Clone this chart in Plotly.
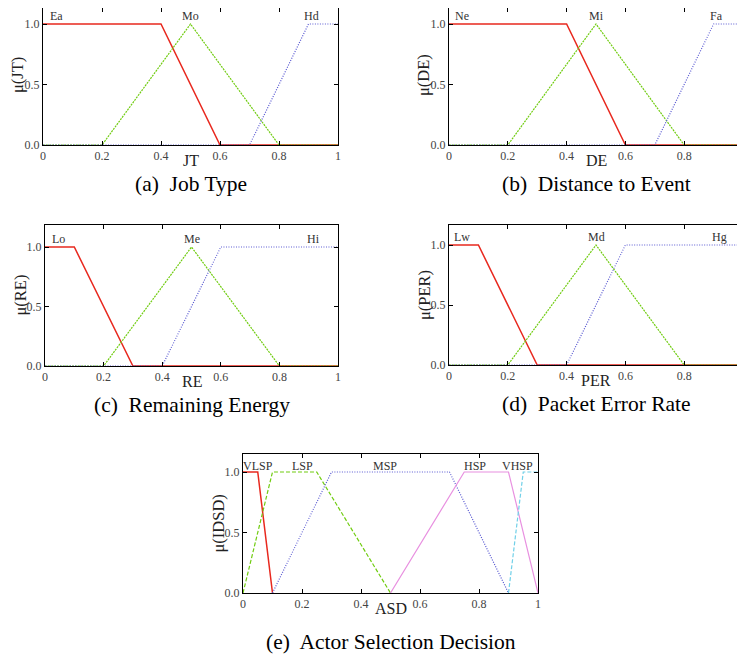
import plotly.graph_objects as go

# ---------------- data ----------------
x_ticks = [0, 0.2, 0.4, 0.6, 0.8, 1]
x_tick_text = ["0", "0.2", "0.4", "0.6", "0.8", "1"]
y_ticks = [0, 0.5, 1.0]
y_tick_text = ["0.0", "0.5", "1.0"]

# (a) Job Type
jt_names = ["Ea", "Mo", "Hd"]
jt_x = [[0, 0.4, 0.6, 1], [0, 0.2, 0.5, 0.8, 1], [0, 0.7, 0.9, 1]]
jt_y = [[1, 1, 0, 0], [0, 0, 1, 0, 0], [0, 0, 1, 1]]

# (b) Distance to Event
de_names = ["Ne", "Mi", "Fa"]
de_x = [[0, 0.4, 0.6, 1], [0, 0.2, 0.5, 0.8, 1], [0, 0.7, 0.9, 1]]
de_y = [[1, 1, 0, 0], [0, 0, 1, 0, 0], [0, 0, 1, 1]]

# (c) Remaining Energy
re_names = ["Lo", "Me", "Hi"]
re_x = [[0, 0.1, 0.3, 1], [0, 0.2, 0.5, 0.8, 1], [0, 0.4, 0.6, 1]]
re_y = [[1, 1, 0, 0], [0, 0, 1, 0, 0], [0, 0, 1, 1]]

# (d) Packet Error Rate
per_names = ["Lw", "Md", "Hg"]
per_x = [[0, 0.1, 0.3, 1], [0, 0.2, 0.5, 0.8, 1], [0, 0.4, 0.6, 1]]
per_y = [[1, 1, 0, 0], [0, 0, 1, 0, 0], [0, 0, 1, 1]]

# (e) Actor Selection Decision
asd_names = ["VLSP", "LSP", "MSP", "HSP", "VHSP"]
asd_x = [[0, 0.05, 0.1], [0, 0.1, 0.25, 0.5], [0.1, 0.3, 0.7, 0.9],
         [0.5, 0.75, 0.9, 1], [0.9, 0.95, 1]]
asd_y = [[1, 1, 0], [0, 1, 1, 0], [0, 1, 1, 0], [0, 1, 1, 0], [0, 1, 1]]

# ---------------- style ----------------
RED = "#e8281e"
GREEN = "#70cc10"
BLUE = "#5a5ad2"
PINK = "#e890e0"
CYAN = "#70d0e8"
SERIF = "Liberation Serif"

W, H = 745, 655
OFF = 8  # page body margin


def px2x(p):
    return min(1.0, max(0.0, (p - OFF) / W))


def px2y(p):
    return min(1.0, max(0.0, 1 - (p - OFF) / H))


GDOT = "2px,1px"
BDOT = "1px,1.5px"
DASH = "4px,2px"

# box: (left, right, top, bottom, pixel row of y=1.0) in page pixels
panels = [
    dict(names=jt_names, xs=jt_x, ys=jt_y,
         styles=[(RED, "solid", 1.5), (GREEN, GDOT, 1.2), (BLUE, BDOT, 1.2)],
         lx=[0.045, 0.5, 0.91], ly=1.07, xt="JT", yt="μ(JT)",
         cap="(a)\u00a0 Job Type", box=(43, 338, 5, 145, 24), cap_off=39),
    dict(names=de_names, xs=de_x, ys=de_y,
         styles=[(RED, "solid", 1.5), (GREEN, GDOT, 1.2), (BLUE, BDOT, 1.2)],
         lx=[0.045, 0.5, 0.91], ly=1.07, xt="DE", yt="μ(DE)",
         cap="(b)\u00a0 Distance to Event", box=(449, 743, 5, 145, 24), cap_off=39),
    dict(names=re_names, xs=re_x, ys=re_y,
         styles=[(RED, "solid", 1.5), (GREEN, GDOT, 1.2), (BLUE, BDOT, 1.2)],
         lx=[0.045, 0.5, 0.915], ly=1.07, xt="RE", yt="μ(RE)",
         cap="(c)\u00a0 Remaining Energy", box=(45, 338, 225, 366, 247), cap_off=39),
    dict(names=per_names, xs=per_x, ys=per_y,
         styles=[(RED, "solid", 1.5), (GREEN, GDOT, 1.2), (BLUE, BDOT, 1.2)],
         lx=[0.045, 0.5, 0.92], ly=1.07, xt="PER", yt="μ(PER)",
         cap="(d)\u00a0 Packet Error Rate", box=(449, 743, 225, 365, 245), cap_off=39),
    dict(names=asd_names, xs=asd_x, ys=asd_y,
         styles=[(RED, "solid", 1.5), (GREEN, DASH, 1.2), (BLUE, BDOT, 1.2),
                 (PINK, "solid", 1.2), (CYAN, DASH, 1.2)],
         lx=[0.05, 0.2, 0.48, 0.787, 0.93], ly=1.05, xt="ASD", yt="μ(IDSD)",
         cap="(e)\u00a0 Actor Selection Decision", box=(243, 538, 454, 593, 472),
         cap_off=49),
]

fig = go.Figure()
annotations = []
layout_axes = {}

for i, p in enumerate(panels, start=1):
    xa = "x" if i == 1 else f"x{i}"
    ya = "y" if i == 1 else f"y{i}"
    l, r, t, b, one = p["box"]
    t_eff = max(t, OFF)
    ytop = (b - t_eff) / (b - one)
    for name, xv, yv, (col, dash, wd) in zip(p["names"], p["xs"], p["ys"], p["styles"]):
        fig.add_trace(go.Scatter(x=xv, y=yv, mode="lines", name=name,
                                 line=dict(color=col, dash=dash, width=wd),
                                 xaxis=xa, yaxis=ya, showlegend=False,
                                 hoverinfo="skip"))
    common = dict(showline=True, linecolor="black", linewidth=1, mirror="ticks",
                  ticks="inside", ticklen=4, tickcolor="black", showgrid=False,
                  zeroline=False, automargin=False,
                  tickfont=dict(family=SERIF, size=12, color="#444"),
                  fixedrange=True)
    layout_axes["xaxis" if i == 1 else f"xaxis{i}"] = dict(
        common, domain=[px2x(l), px2x(r)], range=[0, 1], anchor=ya,
        tickvals=x_ticks, ticktext=x_tick_text, ticklabelstandoff=0)
    layout_axes["yaxis" if i == 1 else f"yaxis{i}"] = dict(
        common, domain=[px2y(b), px2y(t_eff)], range=[0, ytop], anchor=xa,
        tickvals=y_ticks, ticktext=y_tick_text, ticklabelstandoff=0)
    for name, lxv in zip(p["names"], p["lx"]):
        annotations.append(dict(x=lxv, y=p["ly"], xref=xa, yref=ya, text=name,
                                showarrow=False, xanchor="center", yanchor="middle",
                                font=dict(family=SERIF, size=12, color="#333")))
    cx = (l + r) / 2
    annotations.append(dict(x=px2x(cx), y=px2y(b + 15.5), xref="paper", yref="paper",
                            text=p["xt"], showarrow=False, xanchor="center",
                            yanchor="middle",
                            font=dict(family=SERIF, size=16, color="#222")))
    annotations.append(dict(x=px2x(l - 25), y=px2y((t + b) / 2), xref="paper",
                            yref="paper", text=p["yt"], showarrow=False,
                            textangle=-90, xanchor="center", yanchor="middle",
                            font=dict(family=SERIF, size=16.5, color="#222")))
    annotations.append(dict(x=px2x(cx), y=px2y(b + p["cap_off"]), xref="paper",
                            yref="paper", text=p["cap"], showarrow=False,
                            xanchor="center", yanchor="middle",
                            font=dict(family=SERIF, size=21.5, color="black")))

fig.update_layout(template="none", width=W, height=H,
                  margin=dict(l=0, r=0, t=0, b=0),
                  paper_bgcolor="white", plot_bgcolor="white",
                  font=dict(family=SERIF),
                  annotations=annotations, **layout_axes)

fig.write_html("out.html")
